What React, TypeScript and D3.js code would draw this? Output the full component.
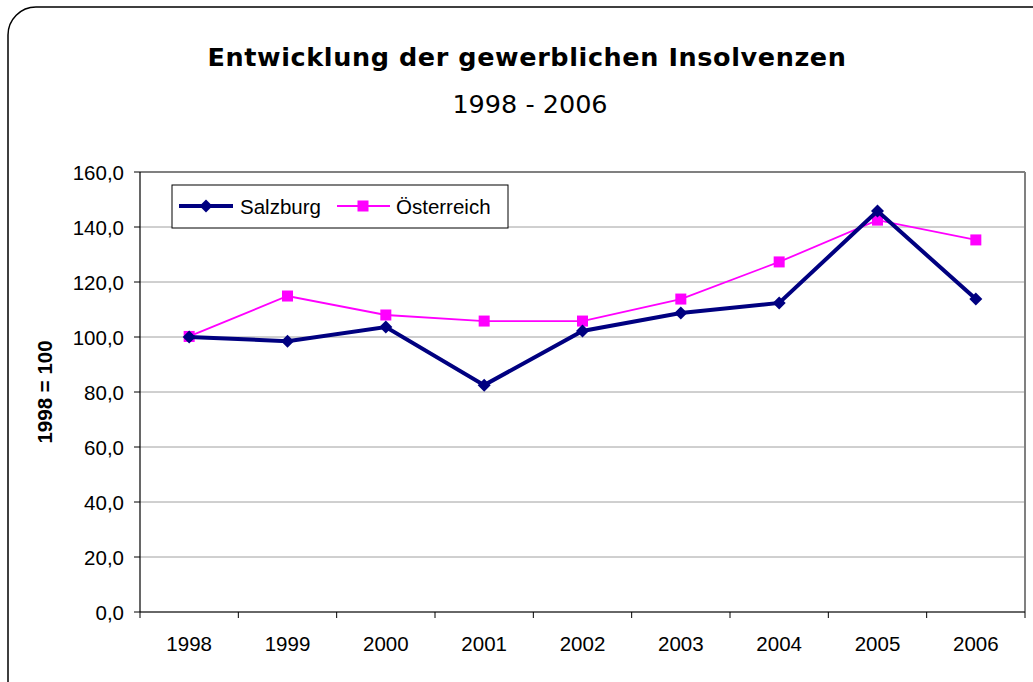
import React from "react";
import * as d3 from "d3";

const years = ["1998", "1999", "2000", "2001", "2002", "2003", "2004", "2005", "2006"];
const salzburg = [100.0, 98.5, 103.6, 82.5, 102.2, 108.7, 112.4, 145.8, 113.8];
const oesterreich = [100.2, 114.9, 108.0, 105.8, 105.8, 113.8, 127.3, 142.5, 135.3];
const yTicks = [0, 20, 40, 60, 80, 100, 120, 140, 160];

const W = 1033;
const H = 682;
const plot = { left: 140, right: 1025, top: 172, bottom: 612 };

export default function App() {
  const x = d3.scaleBand<string>().domain(years).range([plot.left, plot.right]);
  const y = d3.scaleLinear().domain([0, 160]).range([plot.bottom, plot.top]);
  const cx = (d: string) => (x(d) as number) + x.bandwidth() / 2;
  const line = d3.line<number>().x((_, i) => cx(years[i])).y((v) => y(v));
  const fmt = (v: number) => v.toFixed(1).replace(".", ",");
  const font = "'Liberation Sans', Arial, sans-serif";
  const fs = 20.5;
  const diamond = (px: number, py: number, r: number) =>
    `M${px},${py - r}L${px + r},${py}L${px},${py + r}L${px - r},${py}Z`;

  return (
    <div style={{ position: "absolute", left: 0, top: 0 }}>
      <svg width={W} height={H} style={{ display: "block", background: "#fff" }}>
        <rect x={8} y={7} width={1100} height={720} rx={28} ry={28} fill="#fff" stroke="#000" strokeWidth={1.5} />
        <text x={527} y={66} textAnchor="middle" fontFamily="'DejaVu Sans', Tahoma, sans-serif" fontWeight="bold" fontSize={25.5} letterSpacing={0.6} fill="#000">
          Entwicklung der gewerblichen Insolvenzen
        </text>
        <text x={530} y={113} textAnchor="middle" fontFamily="'DejaVu Sans', Tahoma, sans-serif" fontSize={25.5} fill="#000">
          1998 - 2006
        </text>
        {yTicks.map((t) => (
          <line key={t} x1={plot.left} x2={plot.right} y1={y(t)} y2={y(t)} stroke={t === 160 ? "#808080" : "#a0a0a0"} strokeWidth={t === 160 ? 2 : 1} />
        ))}
        <line x1={plot.right} x2={plot.right} y1={plot.top} y2={plot.bottom} stroke="#808080" strokeWidth={2} />
        <line x1={plot.left} x2={plot.left} y1={plot.top} y2={plot.bottom} stroke="#000" strokeWidth={1.2} />
        {yTicks.map((t) => (
          <g key={"yt" + t}>
            <line x1={plot.left - 6} x2={plot.left} y1={y(t)} y2={y(t)} stroke="#000" />
            <text x={124} y={y(t) + 7.5} textAnchor="end" fontFamily={font} fontSize={fs} fill="#000">
              {fmt(t)}
            </text>
          </g>
        ))}
        <line x1={plot.left} x2={plot.right} y1={plot.bottom} y2={plot.bottom} stroke="#000" strokeWidth={1.2} />
        {years.map((yr) => (
          <line key={"xt" + yr} x1={x(yr) as number} x2={x(yr) as number} y1={plot.bottom} y2={plot.bottom + 6} stroke="#000" />
        ))}
        <line x1={plot.right} x2={plot.right} y1={plot.bottom} y2={plot.bottom + 6} stroke="#000" />
        {years.map((yr) => (
          <text key={"xl" + yr} x={cx(yr)} y={651} textAnchor="middle" fontFamily={font} fontSize={fs} fill="#000">
            {yr}
          </text>
        ))}
        <text transform={`translate(52,392) rotate(-90)`} textAnchor="middle" fontFamily={font} fontWeight="bold" fontSize={fs} fill="#000">
          1998 = 100
        </text>
        <path d={line(oesterreich) as string} fill="none" stroke="#ff00ff" strokeWidth={1.8} />
        {oesterreich.map((v, i) => (
          <rect key={"o" + i} x={cx(years[i]) - 5.5} y={y(v) - 5.5} width={11} height={11} fill="#ff00ff" />
        ))}
        <path d={line(salzburg) as string} fill="none" stroke="#000080" strokeWidth={4} strokeLinejoin="miter" />
        {salzburg.map((v, i) => (
          <path key={"s" + i} d={diamond(cx(years[i]), y(v), 6.5)} fill="#000080" />
        ))}
        <rect x={172} y={185} width={336} height={43} fill="#fff" stroke="#000" strokeWidth={1} />
        <line x1={179} x2={233} y1={206} y2={206} stroke="#000080" strokeWidth={4} />
        <path d={diamond(206, 206, 6.5)} fill="#000080" />
        <text x={240} y={213.5} fontFamily={font} fontSize={fs} fill="#000">Salzburg</text>
        <line x1={337} x2={390} y1={206} y2={206} stroke="#ff00ff" strokeWidth={1.8} />
        <rect x={357.5} y={200.5} width={11} height={11} fill="#ff00ff" />
        <text x={396} y={213.5} fontFamily={font} fontSize={fs} fill="#000">Österreich</text>
      </svg>
    </div>
  );
}
